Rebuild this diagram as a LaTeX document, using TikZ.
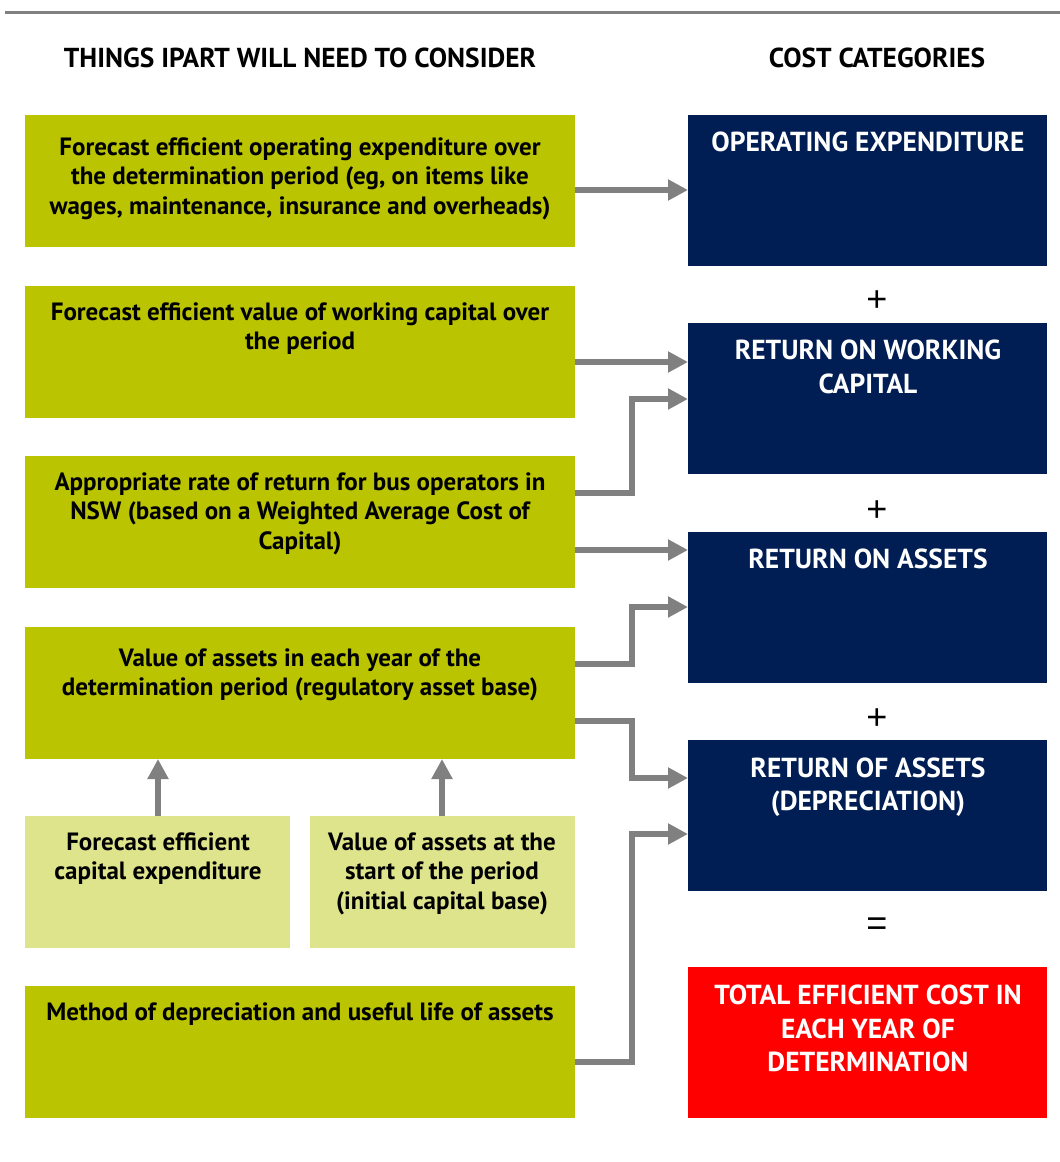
\documentclass[tikz,border=0pt]{standalone}
\usepackage{fontspec}
\setmainfont{PT Sans}
\newfontfamily\opfont{Liberation Sans}
\usetikzlibrary{arrows.meta}
\definecolor{boxgreen}{RGB}{186,196,0}
\definecolor{lightgreen}{RGB}{222,228,140}
\definecolor{navy}{RGB}{0,30,84}
\definecolor{arrowgray}{RGB}{128,128,128}
\begin{document}
\begin{tikzpicture}[x=1pt,y=-1pt,
  box/.style={draw=none, anchor=north west, inner sep=0pt, outer sep=0pt},
  gbox/.style={box, fill=boxgreen, minimum width=550pt, minimum height=132pt},
  sbox/.style={box, fill=lightgreen, minimum width=265pt, minimum height=132pt},
  nbox/.style={box, fill=navy, minimum width=359pt, minimum height=151pt},
  ltext/.style={anchor=base, align=center, inner sep=0pt, font=\fontsize{25}{29.6}\selectfont\bfseries},
  rtext/.style={anchor=base, align=center, inner sep=0pt, text=white, font=\fontsize{27.5}{33.5}\selectfont\bfseries},
  head/.style={anchor=base, inner sep=0pt, font=\fontsize{27.4}{30}\selectfont\bfseries},
  op/.style={inner sep=0pt, font=\opfont\fontsize{36}{36}\selectfont},
  arr/.style={draw=arrowgray, line width=6pt, -{Triangle[length=20pt,width=20pt]}}
]
\useasboundingbox (0,0) rectangle (1060,1162);
\draw[arrowgray, line width=3pt] (5,12.5) -- (1060,12.5);

\node[head] (h1) at (300,67.5) {THINGS IPART WILL NEED TO CONSIDER};
\node[head] (h2) at (877,67.5) {COST CATEGORIES};

% left boxes
\node[gbox] (l1) at (25,115) {};
\node[gbox] (l2) at (25,286) {};
\node[gbox] (l3) at (25,456) {};
\node[gbox] (l4) at (25,627) {};
\node[sbox] (l5a) at (25,816) {};
\node[sbox] (l5b) at (310,816) {};
\node[gbox] (l6) at (25,986) {};

\node[ltext] (t1) at (300,214.2) {Forecast efficient operating expenditure over\\the determination period (eg, on items like\\wages, maintenance, insurance and overheads)};
\node[ltext] (t2) at (300,349.6) {Forecast efficient value of working capital over\\the period};
\node[ltext] (t3) at (300,549.2) {Appropriate rate of return for bus operators in\\NSW (based on a Weighted Average Cost of\\Capital)};
\node[ltext] (t4) at (300,695.6) {Value of assets in each year of the\\determination period (regulatory asset base)};
\node[ltext] (t5a) at (158,879.6) {Forecast efficient\\capital expenditure};
\node[ltext] (t5b) at (442,909.2) {Value of assets at the\\start of the period\\(initial capital base)};
\node[ltext] (t6) at (300,1020) {Method of depreciation and useful life of assets};

% right boxes
\node[nbox] (r1) at (688,115) {};
\node[nbox] (r2) at (688,323) {};
\node[nbox] (r3) at (688,532) {};
\node[nbox] (r4) at (688,740) {};
\node[nbox, fill=red] (r5) at (688,967) {};

\node[rtext] (s1) at (868,151.5) {OPERATING EXPENDITURE};
\node[rtext] (s2) at (868,393) {RETURN ON WORKING\\CAPITAL};
\node[rtext] (s3) at (868,568.5) {RETURN ON ASSETS};
\node[rtext] (s4) at (868,810.5) {RETURN OF ASSETS\\(DEPRECIATION)};
\node[rtext] (s5) at (868,1071.5) {TOTAL EFFICIENT COST IN\\EACH YEAR OF\\DETERMINATION};

\node[op] (p1) at (877,301) {+};
\node[op] (p2) at (877,511) {+};
\node[op] (p3) at (877,719) {+};
\node[op] (eq) at (877,927) {=};

% arrows
\draw[arr] (l1.east |- 0,190) -- (r1.west |- 0,190);
\draw[arr] (l2.east |- 0,362) -- (r2.west |- 0,362);
\draw[arr] (l3.east |- 0,493) -- (632,493) |- (r2.west |- 0,399);
\draw[arr] (l3.east |- 0,550) -- (r3.west |- 0,550);
\draw[arr] (l4.east |- 0,664) -- (632,664) |- (r3.west |- 0,607);
\draw[arr] (l4.east |- 0,721) -- (632,721) |- (r4.west |- 0,778);
\draw[arr] (l6.east |- 0,1062) -- (632,1062) |- (r4.west |- 0,834);
\draw[arr] (l5a.north -| t5a) -- (l4.south -| t5a);
\draw[arr] (l5b.north -| t5b) -- (l4.south -| t5b);
\end{tikzpicture}
\end{document}
